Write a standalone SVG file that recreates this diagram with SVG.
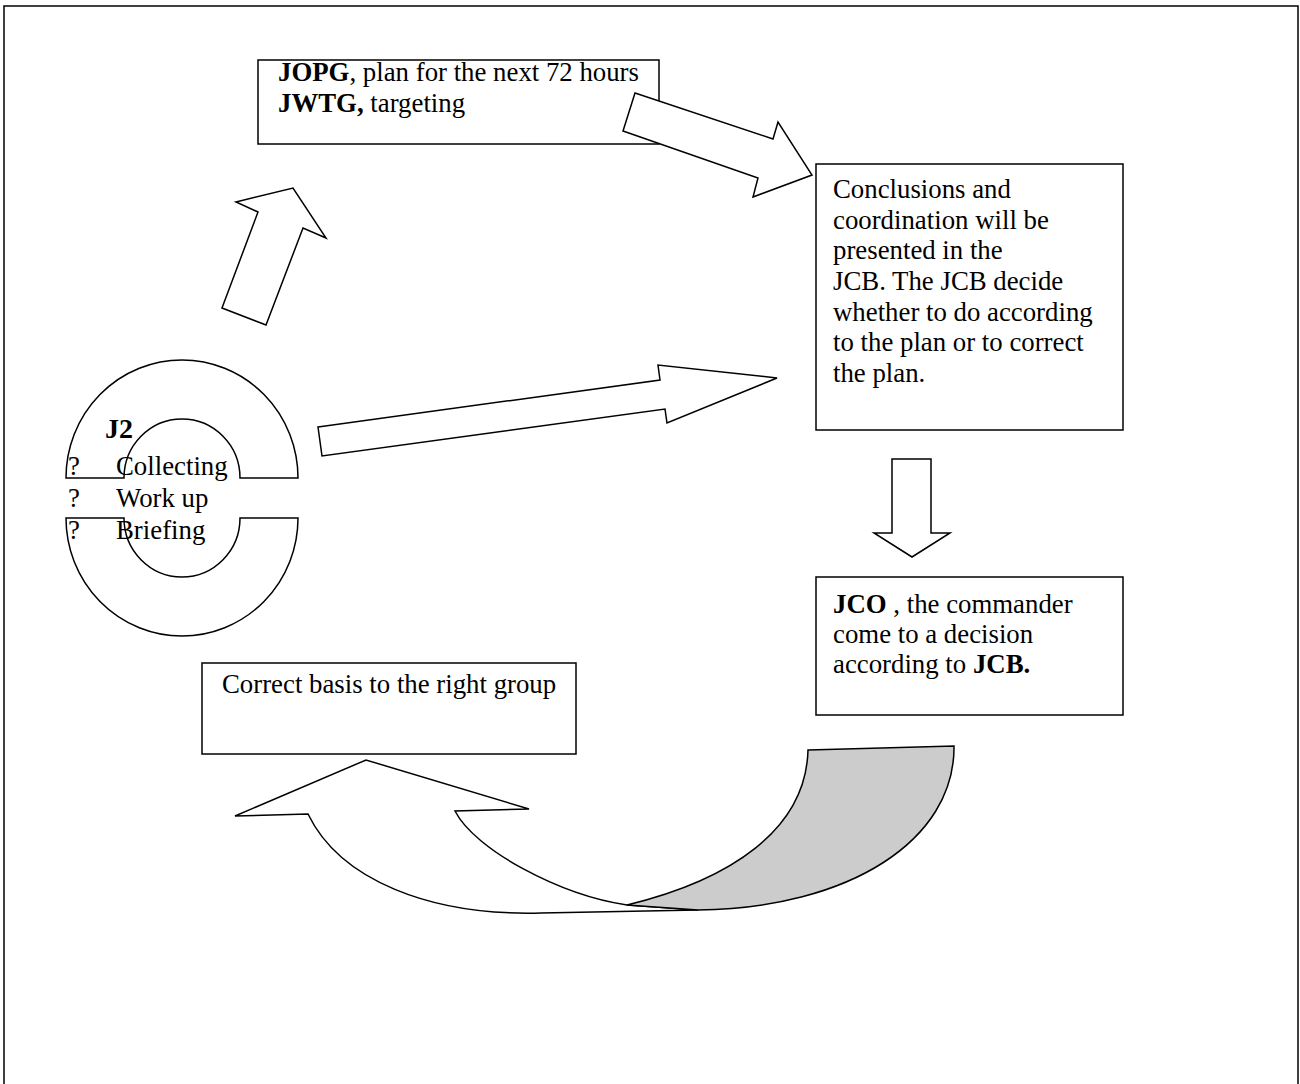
<svg xmlns="http://www.w3.org/2000/svg" width="1300" height="1084" viewBox="0 0 1300 1084">
  <style>
    .frame { fill: none; stroke: #000; stroke-width: 1.5; }
    .box { fill: #fff; stroke: #000; stroke-width: 1.5; }
    .arrow { fill: #fff; stroke: #000; stroke-width: 1.5; stroke-linejoin: miter; }
    .shade { fill: #cccccc; stroke: #000; stroke-width: 1.5; }
    text { font-family: "Liberation Serif", "Times New Roman", serif; font-size: 26.8px; fill: #000; }
    .b { font-weight: bold; }
  </style>

  <!-- page frame -->
  <rect class="frame" x="4" y="6" width="1294" height="1100"/>

  <!-- J2 ring: two half annuli -->
  <g id="j2">
    <path class="arrow" d="M 66,478 A 116 118 0 0 1 298,478 L 240,478 A 58 59 0 0 0 124,478 Z"/>
    <path class="arrow" d="M 66,518 A 116 118 0 0 0 298,518 L 240,518 A 58 59 0 0 1 124,518 Z"/>
    <text class="b" x="105" y="438" style="font-size:28px">J2</text>
    <text x="68" y="475">?</text>
    <text x="116" y="475">Collecting</text>
    <text x="68" y="507">?</text>
    <text x="116" y="507">Work up</text>
    <text x="68" y="539">?</text>
    <text x="116" y="539">Briefing</text>
  </g>

  <g id="jopg">
    <rect class="box" x="258" y="60" width="401" height="84"/>
    <text x="278" y="81"><tspan class="b">JOPG</tspan>, plan for the next 72 hours</text>
    <text x="278" y="112"><tspan class="b">JWTG,</tspan> targeting</text>
  </g>

  <g id="jcb">
    <rect class="box" x="816" y="164" width="307" height="266"/>
    <text x="833" y="198">Conclusions and</text>
    <text x="833" y="229">coordination will be</text>
    <text x="833" y="259">presented in the</text>
    <text x="833" y="290">JCB. The JCB decide</text>
    <text x="833" y="321">whether to do according</text>
    <text x="833" y="351">to the plan or to correct</text>
    <text x="833" y="382">the plan.</text>
  </g>

  <g id="jco">
    <rect class="box" x="816" y="577" width="307" height="138"/>
    <text x="833" y="613"><tspan class="b">JCO</tspan> , the commander</text>
    <text x="833" y="643">come to a decision</text>
    <text x="833" y="673">according to <tspan class="b">JCB.</tspan></text>
  </g>

  <g id="correct">
    <rect class="box" x="202" y="663" width="374" height="91"/>
    <text x="222" y="693">Correct basis to the right group</text>
  </g>

  <!-- block arrows between the nodes -->
  <g id="connectors">
    <polygon class="arrow" points="222,308 258,212 236,202 293,188 326,238 303,228 266,325"/>
    <polygon class="arrow" points="635,93 773,139 778,122 812,175 753,197 758,178 623,131"/>
    <polygon class="arrow" points="318,427 660,380 658,365 777,378 667,423 665,409 322,456"/>
    <polygon class="arrow" points="892,459 931,459 931,533 950,533 912,557 874,533 892,533"/>
    <!-- curved return arrow: white front band with head, shaded back band -->
    <path class="arrow" d="M 308,814 L 235,816 L 366,760 L 529,809 L 455,811 C 475,850 560,895 627,905 L 698,910 L 541,913 C 430,916 340,880 308,814 Z"/>
    <path class="shade" d="M 808,750 L 954,746 C 955,840 850,908 698,910 L 627,905 C 730,880 806,830 808,750 Z"/>
  </g>
</svg>
